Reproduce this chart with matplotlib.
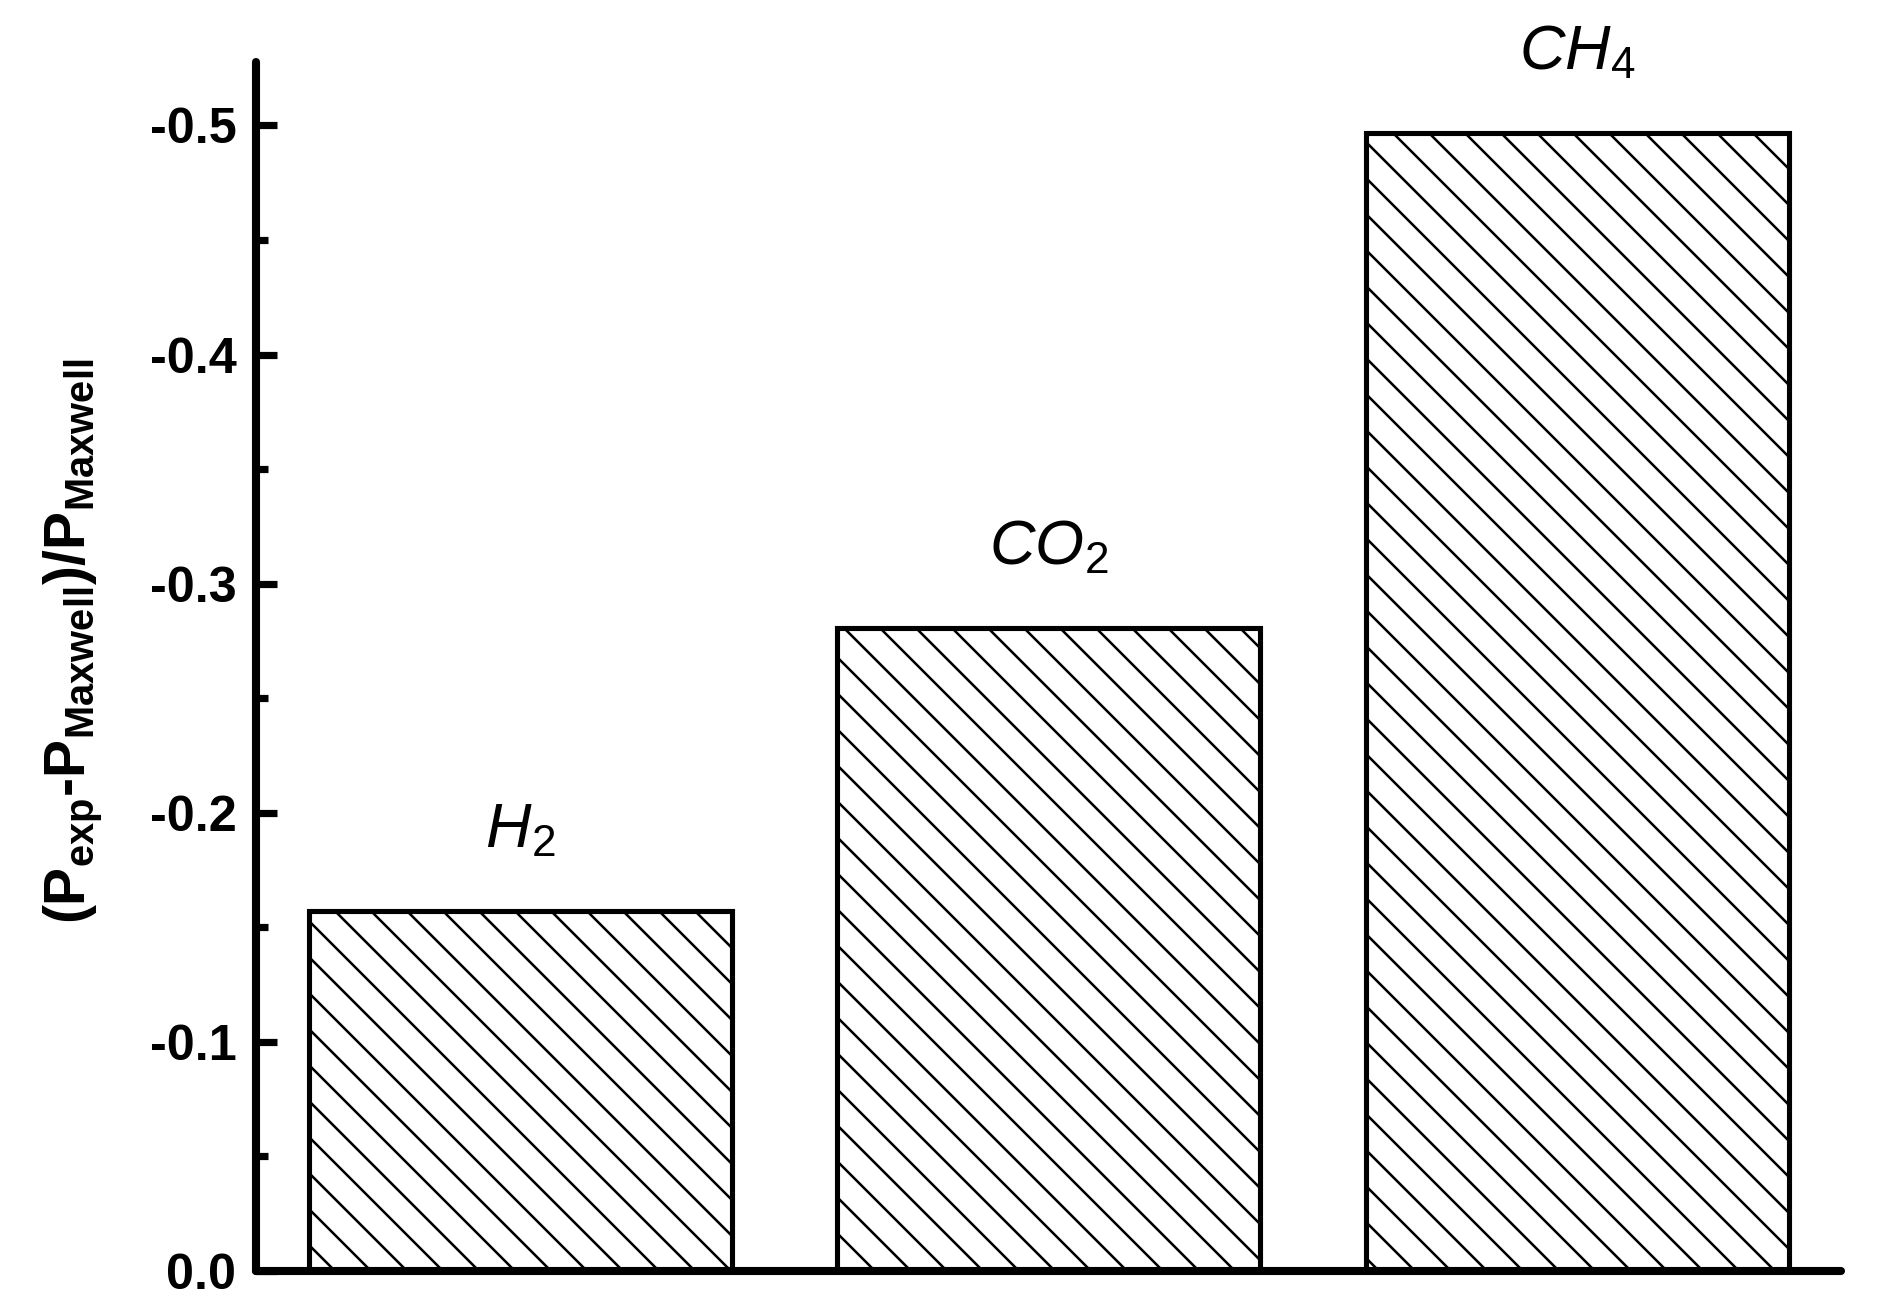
import matplotlib
matplotlib.use("Agg")
from matplotlib import pyplot as plt
import numpy as np

plt.rcParams['font.family'] = ['Liberation Sans', 'DejaVu Sans']
plt.rcParams['mathtext.fontset'] = 'custom'
plt.rcParams['mathtext.rm'] = 'Liberation Sans'
plt.rcParams['mathtext.it'] = 'Liberation Sans:italic'
plt.rcParams['mathtext.bf'] = 'Liberation Sans:bold'
plt.rcParams['axes.unicode_minus'] = False
plt.rcParams['hatch.linewidth'] = 0.85

# data
gases = ['H$_\\mathit{2}$', 'CO$_\\mathit{2}$', 'CH$_\\mathit{4}$']
deviation = [-0.157, -0.2805, -0.4965]
yticks = [0.0, -0.1, -0.2, -0.3, -0.4, -0.5]
yminor = [-0.05, -0.15, -0.25, -0.35, -0.45]

dpi = 216   # hatch spacing scales with dpi
fig = plt.figure(figsize=(1881 / dpi, 1300 / dpi), dpi=dpi)
ax = fig.add_axes([0.136, 0.0223, 0.843, 0.9297])

x = np.arange(1, len(gases) + 1)
ax.bar(x, deviation, width=0.8, color='white', edgecolor='black',
       linewidth=1.7, hatch='\\\\')

for xi, val, name in zip(x, deviation, gases):
    ax.text(xi, val - 0.028, name, ha='center', va='baseline',
            fontsize=21, style='italic', clip_on=False)

ax.set_xlim(0.5, 3.5)
ax.set_ylim(0, -0.5275)

ax.spines['top'].set_visible(False)
ax.spines['right'].set_visible(False)
ax.spines['left'].set_linewidth(2.7)
ax.spines['bottom'].set_linewidth(2.7)
ax.spines['left'].set_capstyle('round')
ax.spines['bottom'].set_capstyle('round')

ax.set_xticks([])
ax.set_yticks(yticks)
ax.set_yticks(yminor, minor=True)
ax.set_yticklabels([f'{t:.1f}' if t != 0 else '0.0' for t in yticks])
ax.tick_params(axis='y', which='major', direction='in', length=7, width=2.4,
               labelsize=16.8, pad=6.5)
ax.tick_params(axis='y', which='minor', direction='in', length=4, width=2.4)
for lab in ax.get_yticklabels():
    lab.set_fontweight('bold')

ax.set_ylabel('(P$_{\\mathbf{exp}}$-P$_{\\mathbf{Maxwell}}$)/P$_{\\mathbf{Maxwell}}$',
              fontsize=19, fontweight='bold')
ax.yaxis.set_label_coords(-0.096, 0.521)

plt.savefig("out.png", dpi=dpi)
